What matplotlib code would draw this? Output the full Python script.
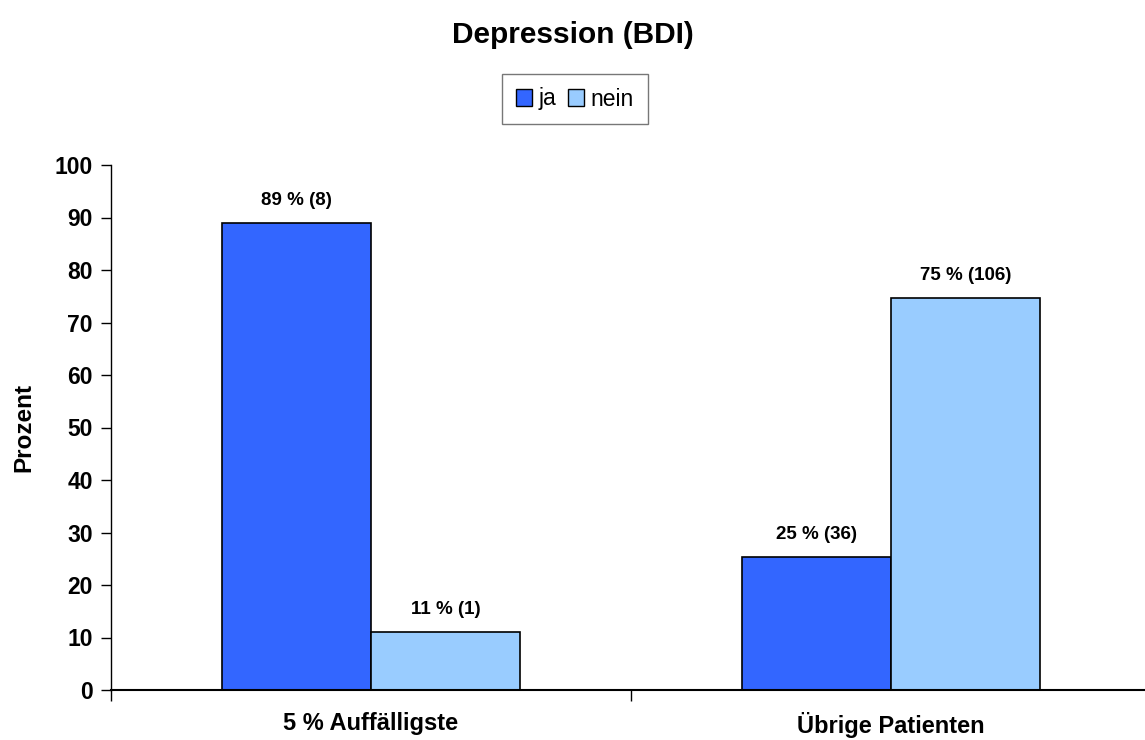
import matplotlib
matplotlib.use("Agg")
from matplotlib import pyplot as plt
from matplotlib.patches import Patch
import numpy as np

categories = ["5 % Auffälligste", "Übrige Patienten"]
series_names = ["ja", "nein"]
ja_values = [88.9, 25.35]
nein_values = [11.1, 74.65]
ja_labels = ["89 % (8)", "25 % (36)"]
nein_labels = ["11 % (1)", "75 % (106)"]
y_ticks = list(range(0, 101, 10))

ja_color = "#3366FF"
nein_color = "#99CCFF"

plt.rcParams['font.family'] = ['Liberation Sans', 'DejaVu Sans']

fig = plt.figure(figsize=(11.45, 7.4), dpi=100)
ax = fig.add_axes([111 / 1145, 50 / 740, 1040 / 1145, 525 / 740])

x = np.arange(len(categories))
width = 0.286
bars_ja = ax.bar(x - width / 2, ja_values, width, color=ja_color,
                 edgecolor="black", linewidth=1.2)
bars_nein = ax.bar(x + width / 2, nein_values, width, color=nein_color,
                   edgecolor="black", linewidth=1.2)

for bars, labels in [(bars_ja, ja_labels), (bars_nein, nein_labels)]:
    for bar, label in zip(bars, labels):
        ax.annotate(label, (bar.get_x() + bar.get_width() / 2, bar.get_height()),
                    xytext=(0, 10), textcoords="offset points",
                    ha="center", va="bottom", fontsize=13.5, fontweight="bold")

ax.set_xlim(-0.5, 1.5)
ax.set_ylim(0, 100)
ax.set_yticks(y_ticks)
ax.set_yticklabels([str(t) for t in y_ticks], fontsize=16.5, fontweight="bold")
ax.tick_params(axis="y", length=7, width=1, pad=6)

# category ticks sit between the groups, labels in the middle
ax.set_xticks([-0.5, 0.5, 1.5])
ax.set_xticklabels([])
ax.set_xticks(x, minor=True)
ax.set_xticklabels(categories, minor=True, fontsize=17, fontweight="bold")
ax.tick_params(axis="x", which="major", length=8, width=1)
ax.tick_params(axis="x", which="minor", length=0, pad=16)

ax.spines["top"].set_visible(False)
ax.spines["right"].set_visible(False)
ax.spines["left"].set_linewidth(1)
ax.spines["bottom"].set_linewidth(1.5)

ax.set_ylabel("Prozent", fontsize=17.5, fontweight="bold", labelpad=14)

fig.text(0.5, 1 - 35 / 740, "Depression (BDI)", ha="center", va="center",
         fontsize=21.5, fontweight="bold")

handles = [Patch(facecolor=ja_color, edgecolor="black"),
           Patch(facecolor=nein_color, edgecolor="black")]
fig.legend(handles, series_names, loc="center", bbox_to_anchor=(575 / 1145, 1 - 99 / 740),
           ncol=2, fontsize=16.5, frameon=True, fancybox=False, edgecolor="#555555",
           handlelength=0.7, handleheight=0.7, handletextpad=0.3, columnspacing=0.5,
           borderpad=0.6, borderaxespad=0)

fig.savefig("out.png", dpi=100)
